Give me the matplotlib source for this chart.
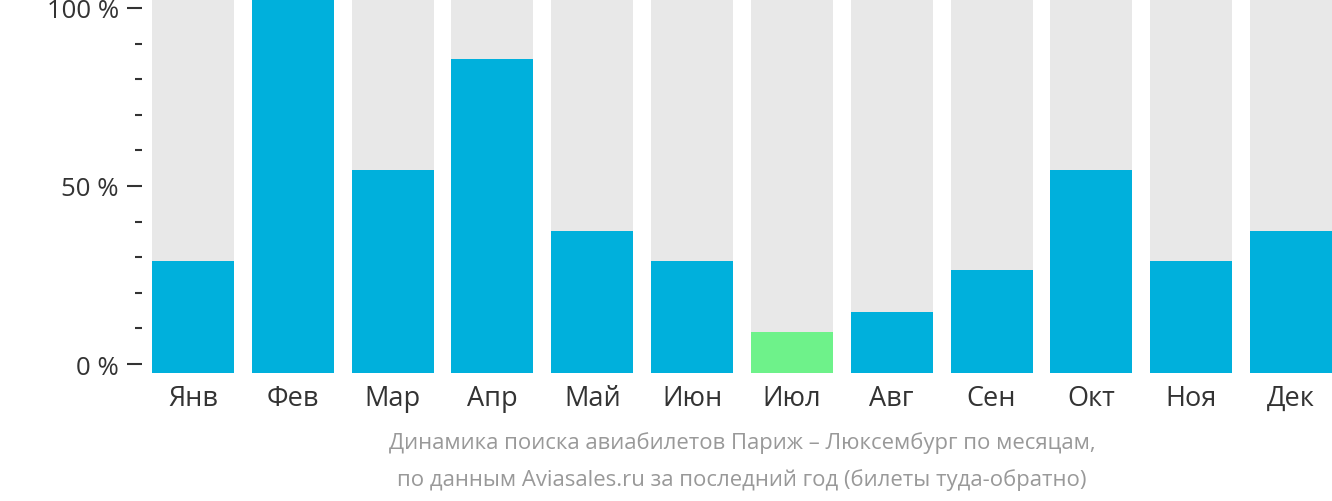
import matplotlib
matplotlib.use("Agg")
import matplotlib.pyplot as plt
from matplotlib.ticker import MultipleLocator, FixedLocator

plt.rcParams['font.family'] = ['Open Sans', 'DejaVu Sans']

# monthly search share, % of the busiest month
months = ['Янв', 'Фев', 'Мар', 'Апр', 'Май', 'Июн',
          'Июл', 'Авг', 'Сен', 'Окт', 'Ноя', 'Дек']
values = [29, 102.5, 54.6, 85.7, 37.5, 29, 9.1, 14.7, 26.3, 54.6, 29, 37.5]
lowest = 'Июл'

y_ticks = [0, 50, 100]
y_tick_labels = ['0 %', '50 %', '100 %']

blue = '#00b0dc'
green = '#6ef28a'
grey = '#e8e8e8'
text_col = '#333333'

fig = plt.figure(figsize=(13.32, 5.02), dpi=100)
ax = fig.add_axes([152 / 1332, 128 / 502, 1180 / 1332, 374 / 502])

lo, hi = -2.5, 102.5
x = range(len(months))
colors = [green if m == lowest else blue for m in months]

ax.bar(x, [hi - lo] * len(months), bottom=lo, width=0.82, color=grey, zorder=1)
ax.bar(x, [v - lo for v in values], bottom=lo, width=0.82, color=colors, zorder=2)

ax.set_xlim(-0.41, len(months) - 0.59)
ax.set_ylim(lo, hi)

for s in ['top', 'right', 'bottom']:
    ax.spines[s].set_visible(False)
ax.spines['left'].set_position(('outward', 7))
ax.spines['left'].set_visible(False)

ax.yaxis.set_major_locator(FixedLocator(y_ticks))
ax.set_yticklabels(y_tick_labels)
ax.yaxis.set_minor_locator(MultipleLocator(10))
ax.tick_params(axis='y', which='major', length=10.8, width=1.5, color=text_col,
               pad=6, labelsize=18.5, labelcolor=text_col)
ax.tick_params(axis='y', which='minor', length=5, width=1.5, color=text_col)

ax.set_xticks(list(x))
ax.set_xticklabels(months)
ax.tick_params(axis='x', length=0, pad=8, labelsize=19.5, labelcolor=text_col)

fig.text(742 / 1332, 1 - 443 / 502,
         'Динамика поиска авиабилетов Париж – Люксембург по месяцам,',
         ha='center', va='center', fontsize=15.9, color='#999999')
fig.text(742 / 1332, 1 - 480 / 502,
         'по данным Aviasales.ru за последний год (билеты туда-обратно)',
         ha='center', va='center', fontsize=15.9, color='#999999')

fig.savefig('out.png', dpi=100)
